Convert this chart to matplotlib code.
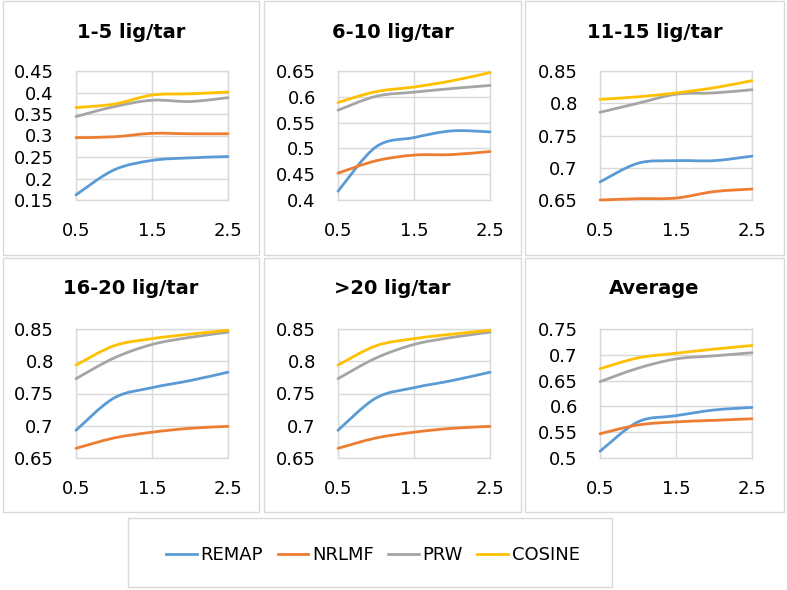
import matplotlib
matplotlib.use("Agg")
import matplotlib.pyplot as plt
from matplotlib.path import Path
from matplotlib.patches import PathPatch, Rectangle
from matplotlib.lines import Line2D
from matplotlib.ticker import FuncFormatter

plt.rcParams['font.family'] = ['DejaVu Sans']

x_vals = [0.5, 1.0, 1.5, 2.0, 2.5]
methods = ["REMAP", "NRLMF", "PRW", "COSINE"]
colors = ["#5B9BD5", "#ED7D31", "#A5A5A5", "#FFC000"]

titles = ["1-5 lig/tar", "6-10 lig/tar", "11-15 lig/tar",
          "16-20 lig/tar", ">20 lig/tar", "Average"]

remap = [
    [0.162, 0.220, 0.242, 0.248, 0.251],
    [0.417, 0.503, 0.521, 0.534, 0.532],
    [0.678, 0.707, 0.711, 0.711, 0.718],
    [0.693, 0.743, 0.759, 0.770, 0.783],
    [0.693, 0.743, 0.759, 0.770, 0.783],
    [0.513, 0.570, 0.582, 0.593, 0.598],
]
nrlmf = [
    [0.295, 0.297, 0.305, 0.304, 0.304],
    [0.452, 0.476, 0.487, 0.488, 0.494],
    [0.650, 0.652, 0.653, 0.663, 0.667],
    [0.665, 0.681, 0.690, 0.696, 0.699],
    [0.665, 0.681, 0.690, 0.696, 0.699],
    [0.547, 0.564, 0.570, 0.573, 0.576],
]
prw = [
    [0.344, 0.367, 0.382, 0.379, 0.388],
    [0.574, 0.601, 0.609, 0.616, 0.622],
    [0.786, 0.800, 0.814, 0.816, 0.821],
    [0.773, 0.805, 0.826, 0.837, 0.845],
    [0.773, 0.805, 0.826, 0.837, 0.845],
    [0.648, 0.674, 0.692, 0.698, 0.704],
]
cosine = [
    [0.365, 0.373, 0.394, 0.397, 0.401],
    [0.589, 0.610, 0.619, 0.631, 0.647],
    [0.806, 0.810, 0.816, 0.824, 0.835],
    [0.794, 0.824, 0.835, 0.842, 0.848],
    [0.794, 0.824, 0.835, 0.842, 0.848],
    [0.673, 0.694, 0.703, 0.711, 0.718],
]
y_limits = [(0.15, 0.45), (0.4, 0.65), (0.65, 0.85),
            (0.65, 0.85), (0.65, 0.85), (0.5, 0.75)]
y_steps = [0.05, 0.05, 0.05, 0.05, 0.05, 0.05]
x_ticks = [0.5, 1.5, 2.5]

W, H = 787, 590
fig = plt.figure(figsize=(W / 100, H / 100), dpi=100)
fig.patch.set_facecolor("white")

grid_c = "#D9D9D9"
box_c = "#D9D9D9"

box_x = [(3, 259), (264, 521), (525, 784)]
box_y = [(1, 255), (258, 512)]
ax_left = [76, 338, 600]
ax_w = 152
ax_top = [71, 329]
ax_h = 129
title_y = [33, 288]


def smooth_path(xs, ys):
    pts = list(zip(xs, ys))
    n = len(pts)
    verts = [pts[0]]
    codes = [Path.MOVETO]
    for i in range(n - 1):
        p0 = pts[i - 1] if i > 0 else pts[i]
        p1 = pts[i]
        p2 = pts[i + 1]
        p3 = pts[i + 2] if i + 2 < n else pts[i + 1]
        c1 = (p1[0] + (p2[0] - p0[0]) / 6, p1[1] + (p2[1] - p0[1]) / 6)
        c2 = (p2[0] - (p3[0] - p1[0]) / 6, p2[1] - (p3[1] - p1[1]) / 6)
        verts += [c1, c2, p2]
        codes += [Path.CURVE4, Path.CURVE4, Path.CURVE4]
    return Path(verts, codes)


fmt = FuncFormatter(lambda v, p: f"{round(v, 4):g}")

for k in range(6):
    r, c = divmod(k, 3)
    bx0, bx1 = box_x[c]
    by0, by1 = box_y[r]
    fig.patches.append(Rectangle((bx0 / W, 1 - by1 / H), (bx1 - bx0) / W,
                                 (by1 - by0) / H, transform=fig.transFigure,
                                 fill=False, edgecolor=box_c, lw=1.0))
    ax = fig.add_axes([ax_left[c] / W, 1 - (ax_top[r] + ax_h) / H,
                       ax_w / W, ax_h / H])
    lo, hi = y_limits[k]
    ax.set_xlim(0.5, 2.5)
    ax.set_ylim(lo, hi)
    ax.set_xticks(x_ticks)
    nt = int(round((hi - lo) / y_steps[k]))
    ax.set_yticks([lo + i * y_steps[k] for i in range(nt + 1)])
    ax.yaxis.set_major_formatter(fmt)
    ax.xaxis.set_major_formatter(fmt)
    ax.tick_params(length=0, labelsize=13, colors="#000000")
    ax.tick_params(axis='x', pad=16)
    ax.tick_params(axis='y', pad=16)
    ax.grid(True, color=grid_c, lw=1.0)
    for s in ax.spines.values():
        s.set_color(grid_c)
        s.set_linewidth(1.0)
    for series, col in zip([remap, nrlmf, prw, cosine], colors):
        pp = PathPatch(smooth_path(x_vals, series[k]), fill=False,
                       edgecolor=col, lw=2.0, transform=ax.transData,
                       clip_on=False, zorder=3, capstyle='round')
        ax.add_patch(pp)
    fig.text(((bx0 + bx1) / 2) / W, 1 - title_y[r] / H, titles[k],
             ha="center", va="center", fontsize=14, fontweight="bold")

# legend box
lx0, lx1, ly0, ly1 = 128, 612, 518, 587
fig.patches.append(Rectangle((lx0 / W, 1 - ly1 / H), (lx1 - lx0) / W,
                             (ly1 - ly0) / H, transform=fig.transFigure,
                             fill=False, edgecolor=box_c, lw=1.0))
handles = [Line2D([0], [0], color=col, lw=2.0) for col in colors]
fig.legend(handles, methods, loc="center", bbox_to_anchor=(373 / W, 1 - 555 / H),
           ncol=4, frameon=False, fontsize=13, handlelength=1.7,
           handletextpad=0.2, columnspacing=0.8)

fig.savefig("out.png", dpi=100)
